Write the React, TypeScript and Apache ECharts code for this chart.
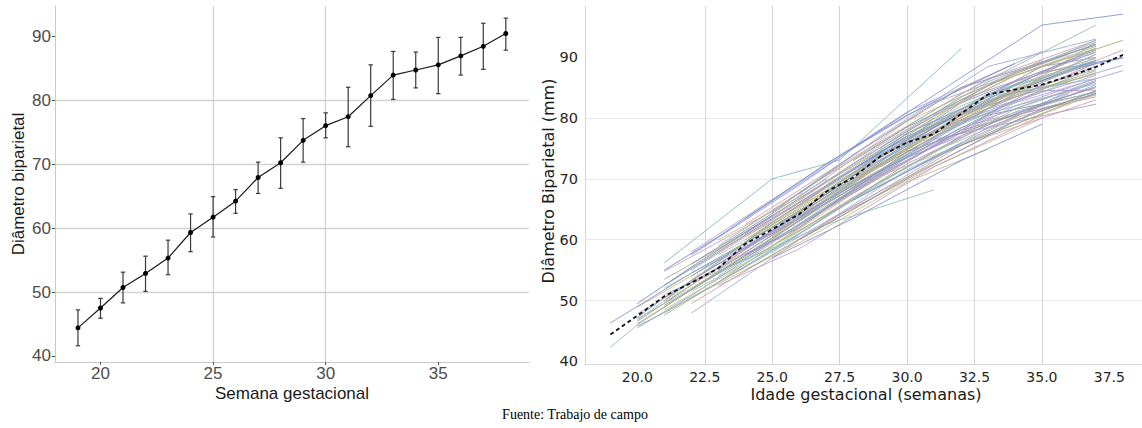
import React, { useEffect, useRef } from "react";
import * as echarts from "echarts";

// ---- Left panel: mean BPD with error bars by gestational week ----
const weeks = [19, 20, 21, 22, 23, 24, 25, 26, 27, 28, 29, 30, 31, 32, 33, 34, 35, 36, 37, 38];
const meanBPD = [44.4, 47.5, 50.7, 52.9, 55.3, 59.3, 61.7, 64.2, 67.9, 70.2, 73.7, 76.0, 77.4, 80.7, 83.9, 84.7, 85.5, 86.9, 88.4, 90.4];
const lowerBPD = [41.6, 45.9, 48.3, 50.1, 52.7, 56.3, 58.6, 62.3, 65.4, 66.2, 70.3, 74.1, 72.7, 75.9, 80.1, 81.9, 81.0, 83.9, 84.8, 87.8];
const upperBPD = [47.2, 49.0, 53.1, 55.6, 58.1, 62.2, 64.9, 66.0, 70.3, 74.1, 77.1, 78.0, 82.0, 85.5, 87.6, 87.5, 89.8, 89.8, 92.0, 92.8];

const leftXTicks = [20, 25, 30, 35];
const leftYTicks = [40, 50, 60, 70, 80, 90];
const rightXTicks = [20, 22.5, 25, 27.5, 30, 32.5, 35, 37.5];
const rightYTicks = [40, 50, 60, 70, 80, 90];

// ---- Right panel: individual trajectories [week, BPD] ----
const trajectories: [number, number][][] = [
  [[19, 46.3], [22, 54.5], [26, 64.5], [30, 77.5], [37, 91.5]],
  [[19, 42.3], [20, 46.0], [24, 57.5], [28, 69.0], [33, 81.5]],
  [[20, 48.9], [23, 56.6], [27, 68.5], [31, 78.8], [37, 88.6]],
  [[20, 46.6], [24, 58.4], [29, 73.0], [34, 84.8], [37, 89.0]],
  [[20, 45.5], [22, 50.8], [25, 59.5], [30, 73.5], [37, 86.0]],
  [[21, 56.2], [25, 70.0], [27.5, 73.1], [32, 91.4]],
  [[21, 54.8], [24, 62.0], [28, 73.5], [33, 86.5], [37, 92.8]],
  [[21, 47.6], [23, 53.0], [27, 65.0], [32, 78.0], [37, 84.0]],
  [[21, 50.0], [25, 62.8], [29, 74.5], [35, 87.5], [38, 90.0]],
  [[22, 47.9], [26, 60.0], [30, 71.5], [36, 84.5]],
  [[22, 58.0], [26, 69.5], [30, 81.0], [35, 91.0]],
  [[21, 51.0], [27, 62.5], [31, 68.2]],
  [[22, 50.5], [26, 59.5], [30, 69.5], [33, 74.9]],
  [[22, 57.5], [26, 69.0], [29, 78.0], [35, 95.3], [38, 97.1]],
  [[23, 59.0], [27, 70.5], [32, 84.0], [37, 95.3]],
  [[22, 53.5], [25, 61.0], [29, 72.0], [34, 84.0], [37, 92.5]],
  [[21, 49.2], [24, 57.0], [28, 68.0], [33, 80.5], [37, 84.2]],
  [[22, 52.0], [26, 62.5], [31, 76.5], [37, 82.3]],
  [[23, 54.0], [27, 65.5], [32, 79.5], [37, 85.7]],
  [[20, 47.8], [23, 55.5], [27, 67.0], [32, 80.5], [38, 91.2]],
  [[24, 60.0], [28, 71.5], [33, 85.5], [38, 92.8]],
  [[21, 52.5], [25, 63.5], [30, 77.0], [36, 88.0], [38, 89.9]],
  [[22, 55.0], [26, 66.0], [31, 79.5], [38, 88.7]],
  [[23, 56.0], [28, 69.0], [34, 82.5], [38, 87.8]],
  [[20, 47.0], [22, 52.0], [26, 63.0], [31, 77.0], [37, 88.5]],
  [[21, 48.5], [24, 56.0], [29, 70.5], [37, 84.0]],
  [[22, 54.0], [27, 67.5], [32, 82.5], [37, 91.2]],
  [[24, 56.5], [27, 64.0], [31, 74.5], [36, 84.0]],
  [[25, 60.5], [29, 72.5], [33, 83.0], [37, 87.2]],
  [[25, 64.5], [28, 74.0], [32, 85.0], [37, 92.0]],
  [[23, 53.0], [26, 61.0], [30, 72.5], [34, 81.0], [37, 85.0]],
  [[26, 63.0], [30, 75.5], [34, 85.5], [37, 89.5]],
  [[24, 62.5], [27, 71.0], [31, 82.5], [36, 90.5]],
  [[21, 53.5], [23, 58.5], [27, 69.5], [31, 80.0]],
  [[20, 49.5], [22, 55.5], [25, 64.0]],
  [[26, 66.5], [29, 75.5], [33, 86.0], [37, 92.5]],
  [[27, 65.5], [30, 73.0], [34, 82.0], [37, 86.5]],
  [[22, 51.5], [25, 58.5], [28, 67.0], [32, 77.0]],
  [[23, 57.5], [26, 65.0], [30, 76.5], [35, 87.0]],
  [[24, 58.5], [28, 70.5], [32, 81.0], [37, 89.5]],
  [[25, 61.0], [28, 69.5], [31, 77.5], [36, 86.0], [37, 87.5]],
  [[21, 49.8], [26, 63.5], [31, 78.0], [37, 90.5]],
  [[28, 71.0], [31, 79.0], [35, 88.5], [37, 90.0]],
  [[29, 72.0], [32, 79.5], [35, 84.5], [37, 84.6]],
  [[27, 69.0], [30, 77.5], [33, 83.5], [37, 86.5]],
  [[26, 61.5], [29, 69.5], [33, 79.5], [37, 83.5]],
  [[20, 46.2], [23, 54.5], [27, 66.0], [30, 74.0]],
  [[22, 56.0], [24, 61.5], [27, 70.0]],
  [[24, 63.5], [28, 75.0], [31, 83.0]],
  [[30, 74.5], [33, 81.5], [37, 87.0]],
  [[28, 68.5], [32, 78.5], [37, 84.4]],
  [[25, 59.0], [29, 69.0], [34, 80.0], [37, 83.8]],
  [[23, 55.0], [27, 66.5], [31, 76.0], [34, 83.0]],
  [[21, 52.0], [24, 59.5], [28, 71.0], [32, 82.0], [37, 91.0]],
  [[26, 64.0], [28, 69.5], [32, 80.0], [35, 86.5]],
  [[24, 57.5], [26, 62.0], [30, 74.5], [37, 85.2]],
  [[22, 53.0], [25, 60.0], [30, 76.0], [37, 89.0]],
  [[27, 67.0], [31, 78.5], [37, 90.5]],
  [[23, 58.0], [28, 71.5], [34, 86.0], [37, 89.8]],
  [[25, 62.0], [27, 67.5], [30, 75.0], [33, 82.0], [37, 87.8]],
  [[20, 47.2], [21, 50.5], [25, 61.5], [29, 73.5], [32, 81.0]],
  [[22, 54.5], [24, 59.0], [27, 66.5], [31, 76.5], [34, 84.0]],
  [[26, 62.5], [30, 73.0], [35, 85.5], [37, 88.0]],
  [[29, 75.0], [32, 83.5], [37, 92.8]],
  [[27, 63.0], [31, 72.0], [35, 80.0]],
  [[25, 57.0], [28, 63.5], [32, 73.0], [35, 79.0]],
  [[31, 80.5], [34, 87.0], [37, 91.8]],
  [[24, 60.5], [27, 68.0], [31, 79.0], [36, 88.5]],
  [[28, 73.0], [30, 78.5], [34, 87.5], [37, 92.2]],
  [[23, 56.5], [25, 61.0], [28, 68.5], [33, 80.0], [37, 86.2]],
  [[20, 45.8], [21, 48.0], [24, 55.5], [28, 66.5], [32, 76.0]],
  [[22, 49.5], [25, 57.5], [29, 68.0], [33, 77.0], [37, 83.0]],
  [[24, 55.0], [28, 65.0], [32, 75.5], [36, 82.5]],
  [[21, 55.0], [23, 60.5], [27, 72.5], [30, 80.5], [34, 89.0]],
  [[26, 67.5], [29, 77.0], [33, 88.5], [37, 93.0]],
  [[25, 58.0], [29, 68.0], [33, 78.5], [37, 85.5]],
  [[21, 48.0], [25, 58.0], [29, 69.5], [34, 81.5], [37, 86.0]],
  [[23, 60.0], [26, 67.0], [30, 79.5], [35, 89.5]],
  [[28, 66.5], [31, 73.5], [35, 81.5], [37, 84.0]],
  [[20, 46.8], [24, 59.5], [27, 67.0], [31, 77.5], [37, 90.0]],
  [[22, 55.5], [26, 66.5], [30, 78.0], [34, 87.0], [37, 91.5]],
  [[26, 60.0], [30, 70.0], [34, 79.5], [37, 84.5]],
  [[24, 61.0], [28, 72.5], [32, 83.0], [37, 90.8]],
  [[27, 68.0], [29, 74.0], [33, 84.0], [37, 89.2]],
  [[23, 52.5], [26, 58.5], [31, 72.0], [35, 80.5]],
];

const palette = ["#7f8fd0", "#9ab89a", "#c9b07f", "#8e8e9e", "#a993c9", "#7fb5c4", "#c79cb5", "#a9a86f", "#6f86c9", "#98a8d8", "#b09ed0", "#8fc0a8", "#c2b48c"];

export default function App() {
  const ref = useRef<HTMLDivElement>(null);
  useEffect(() => {
    if (!ref.current) return;
    const chart = echarts.init(ref.current, undefined, { renderer: "svg" });

    const leftFont = "Liberation Sans";
    const rightFont = "DejaVu Sans";

    const spaghetti = trajectories.map((t, i) => ({
      type: "line",
      xAxisIndex: 1,
      yAxisIndex: 1,
      data: t,
      showSymbol: false,
      silent: true,
      z: 2,
      lineStyle: { color: palette[i % palette.length], width: 1, opacity: 0.85 },
    }));

    chart.setOption({
      animation: false,
      backgroundColor: "#ffffff",
      grid: [
        { left: 55, top: 6, width: 474, height: 356 },
        { left: 585, top: 6, width: 557, height: 358 },
      ],
      xAxis: [
        {
          type: "value",
          gridIndex: 0,
          min: 17.98,
          max: 39.03,
          axisLine: { show: true, lineStyle: { color: "#c8c8c8", width: 1 } },
          axisTick: { show: true, length: 3, customValues: leftXTicks, lineStyle: { color: "#555" } },
          axisLabel: { customValues: leftXTicks, fontFamily: leftFont, fontSize: 17, color: "#4d4d4d", margin: 3 },
          splitLine: { show: true, showMinLine: false, showMaxLine: false, lineStyle: { color: "#d3d3d3", width: 1.3 } },
        },
        {
          type: "value",
          gridIndex: 1,
          min: 18.06,
          max: 38.71,
          axisLine: { show: true, lineStyle: { color: "#d6d6d6", width: 1 } },
          axisTick: { show: false, customValues: rightXTicks },
          axisLabel: {
            customValues: rightXTicks,
            fontFamily: rightFont,
            fontSize: 14,
            color: "#262626",
            margin: 6,
            formatter: (v: number) => v.toFixed(1),
          },
          splitLine: { show: true, showMinLine: false, showMaxLine: false, lineStyle: { color: "#d4d4d4", width: 1 } },
        },
      ],
      yAxis: [
        {
          type: "value",
          gridIndex: 0,
          min: 39.06,
          max: 94.7,
          axisLine: { show: true, lineStyle: { color: "#c8c8c8", width: 1 } },
          axisTick: { show: true, length: 3, customValues: leftYTicks, lineStyle: { color: "#555" } },
          axisLabel: { customValues: leftYTicks, fontFamily: leftFont, fontSize: 17, color: "#4d4d4d", margin: 4 },
          splitLine: { show: true, showMinLine: false, showMaxLine: false, lineStyle: { color: "#d3d3d3", width: 1.3 } },
        },
        {
          type: "value",
          gridIndex: 1,
          min: 39.56,
          max: 98.44,
          axisLine: { show: true, lineStyle: { color: "#d6d6d6", width: 1 } },
          axisTick: { show: false, customValues: rightYTicks },
          axisLabel: { customValues: rightYTicks, fontFamily: rightFont, fontSize: 14.5, color: "#262626", margin: 7 },
          splitLine: { show: true, showMinLine: false, showMaxLine: false, lineStyle: { color: "#e8e8e8", width: 1 } },
        },
      ],
      series: [
        {
          type: "custom",
          xAxisIndex: 0,
          yAxisIndex: 0,
          silent: true,
          z: 3,
          data: weeks.map((w, i) => [w, lowerBPD[i], upperBPD[i]]),
          encode: { x: 0, y: [1, 2] },
          renderItem: (_params: any, api: any) => {
            const x = api.value(0);
            const lo = api.coord([x, api.value(1)]);
            const hi = api.coord([x, api.value(2)]);
            const w = 2.2;
            const style = { stroke: "#3a3a3a", lineWidth: 1.2 };
            return {
              type: "group",
              children: [
                { type: "line", shape: { x1: lo[0], y1: lo[1], x2: hi[0], y2: hi[1] }, style },
                { type: "line", shape: { x1: lo[0] - w, y1: lo[1], x2: lo[0] + w, y2: lo[1] }, style },
                { type: "line", shape: { x1: hi[0] - w, y1: hi[1], x2: hi[0] + w, y2: hi[1] }, style },
              ],
            };
          },
        },
        {
          type: "line",
          xAxisIndex: 0,
          yAxisIndex: 0,
          data: weeks.map((w, i) => [w, meanBPD[i]]),
          symbol: "circle",
          symbolSize: 5,
          silent: true,
          z: 4,
          itemStyle: { color: "#000" },
          lineStyle: { color: "#1a1a1a", width: 1.2 },
        },
        ...spaghetti,
        {
          type: "line",
          xAxisIndex: 1,
          yAxisIndex: 1,
          data: weeks.map((w, i) => [w, meanBPD[i]]),
          showSymbol: false,
          silent: true,
          z: 5,
          lineStyle: { color: "#111", width: 1.8, type: [4, 3] },
        },
      ],
      graphic: [
        {
          type: "text",
          x: 18,
          y: 184,
          rotation: Math.PI / 2,
          style: { text: "Diâmetro biparietal", font: `17px "${leftFont}"`, fill: "#1a1a1a", align: "center", verticalAlign: "middle" },
        },
        {
          type: "text",
          x: 292,
          y: 393,
          style: { text: "Semana gestacional", font: `17px "${leftFont}"`, fill: "#1a1a1a", align: "center", verticalAlign: "middle" },
        },
        {
          type: "text",
          x: 548,
          y: 181,
          rotation: Math.PI / 2,
          style: { text: "Diâmetro Biparietal (mm)", font: `16px "${rightFont}"`, fill: "#1a1a1a", align: "center", verticalAlign: "middle" },
        },
        {
          type: "text",
          x: 866,
          y: 394,
          style: { text: "Idade gestacional (semanas)", font: `16px "${rightFont}"`, fill: "#1a1a1a", align: "center", verticalAlign: "middle" },
        },
        {
          type: "text",
          x: 575,
          y: 414,
          style: { text: "Fuente: Trabajo de campo", font: `14px "Liberation Serif"`, fill: "#000", align: "center", verticalAlign: "middle" },
        },
      ],
    });
    return () => chart.dispose();
  }, []);
  return <div ref={ref} style={{ position: "fixed", left: 0, top: 0, width: 1142, height: 428 }} />;
}
